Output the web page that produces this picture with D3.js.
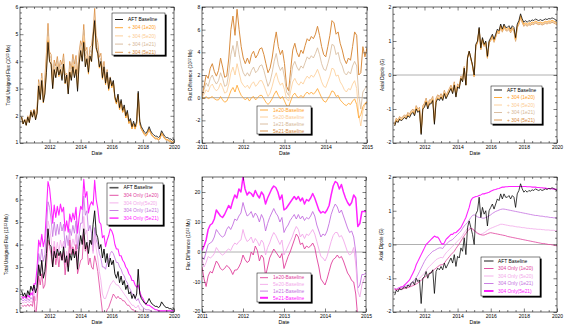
<!DOCTYPE html>
<html>
<head>
<meta charset="utf-8">
<script src="https://cdnjs.cloudflare.com/ajax/libs/d3/7.8.5/d3.min.js"></script>
<style>
body { margin: 0; background: #fff; }
svg { display: block; }
</style>
</head>
<body>
<svg id="chart" width="568" height="327"></svg>
<script>
// sample times: long runs every 0.1 yr from 2010.2, short runs every 0.05 yr from 2011.0
var fullStart = 2010.2, fullStep = 0.1;
var fineStart = 2011.0, fineStep = 0.05;

// AFT baseline total unsigned flux (10^23 Mx)
var fluxBase = [
  1.95,1.7,1.85,1.65,1.95,1.75,2.15,1.95,
  2.2,1.85,2.1,3.1,2.6,3.3,2.5,2.8,3.6,4.7,
  4.0,3.9,3.0,3.7,3.4,3.8,3.5,3.7,3.3,3.9,
  3.2,3.5,2.8,3.6,3.3,3.8,3.4,3.7,2.9,3.9,
  4.4,4.0,4.7,3.8,4.1,3.6,4.2,4.0,4.9,5.5,
  4.5,4.3,3.8,4.0,3.4,3.8,3.2,3.6,3.0,3.4,
  3.1,3.3,2.7,2.5,2.8,2.3,2.6,2.2,2.4,2.0,
  2.2,1.8,1.9,1.6,1.8,1.6,1.8,2.9,1.8,1.6,
  1.5,1.4,1.35,1.45,1.6,1.45,1.35,1.3,1.25,1.25,
  1.2,1.25,1.45,1.35,1.25,1.2,1.2,1.15,1.15,1.1,
  1.15
];

// "+ 304" runs minus baseline, long record (10^22 Mx)
var plusDiff1e20 = [
  0,0,0,0,0,0,0,0,
  0.0,0.1,0.0,-0.1,-0.2,-0.2,-0.3,0.6,0.5,0.6,
  0.0,0.0,0.0,-0.2,0.2,-0.1,-0.6,-0.1,0.6,-0.1,
  -0.3,-0.8,0.2,0.1,0.2,0.3,0.3,0.3,0.8,0.0,
  -0.4,0.2,0.5,0.2,-0.4,-0.7,-0.6,-0.1,-1.8,-0.8,
  -0.4,-0.5,-0.5,-0.5,-0.6,-0.6,-0.6,-0.6,-0.7,-0.7,
  -0.7,-0.7,-0.7,-0.7,-0.7,-0.7,-0.7,-0.7,-0.7,-0.7,
  -0.7,-0.7,-0.7,-0.7,-0.7,-0.7,-0.7,-0.7,-0.7,-0.7,
  -0.7,-0.7,-0.7,-0.7,-0.7,-0.7,-0.7,-0.7,-0.7,-0.7,
  -0.7,-0.7,-0.7,-0.7,-0.7,-0.7,-0.7,-0.7,-0.7,-0.7,
  -0.7
];
var plusDiff5e20 = [
  0.1,0.1,0.1,0.1,0.1,0.2,0.2,0.2,
  0.2,0.7,1.0,0.8,0.8,0.9,0.5,2.2,2.0,2.2,
  1.1,1.1,1.2,1.0,1.5,1.1,0.1,1.0,2.2,1.1,
  0.7,-0.3,1.4,1.3,1.4,1.6,1.7,1.8,2.5,1.4,
  0.9,1.9,2.5,2.0,1.1,0.5,0.7,1.5,-1.5,-1.2,
  -0.3,0.0,0.0,-0.1,-0.2,-0.3,-0.4,-0.4,-0.5,-0.5,
  -0.5,-0.6,-0.6,-0.6,-0.7,-0.7,-0.7,-0.7,-0.8,-0.8,
  -0.8,-0.8,-0.8,-0.8,-0.8,-0.8,-0.8,-0.8,-0.8,-0.8,
  -0.8,-0.8,-0.8,-0.8,-0.8,-0.8,-0.8,-0.8,-0.8,-0.8,
  -0.8,-0.8,-0.8,-0.8,-0.8,-0.8,-0.8,-0.8,-0.8,-0.8,
  -0.8
];
var plusDiff1e21 = [
  0.1,0.2,0.2,0.2,0.3,0.3,0.3,0.4,
  0.3,1.3,1.7,1.5,1.5,1.7,1.1,3.8,4.6,4.4,
  2.2,2.2,2.4,2.2,2.8,2.4,1.0,2.2,3.9,2.4,
  1.8,0.2,2.8,2.7,2.8,3.1,3.4,3.5,4.4,3.0,
  2.4,3.7,4.6,4.0,2.8,2.0,2.1,3.2,0.2,0.5,
  1.0,1.5,1.5,1.2,1.0,0.8,0.5,0.3,0.1,0.0,
  -0.2,-0.3,-0.4,-0.5,-0.5,-0.6,-0.6,-0.7,-0.7,-0.7,
  -0.8,-0.8,-0.8,-0.8,-0.8,-0.8,-0.8,-0.8,-0.8,-0.8,
  -0.9,-0.9,-0.9,-0.9,-0.9,-0.9,-0.9,-0.9,-0.9,-0.9,
  -0.9,-0.9,-0.9,-0.9,-0.9,-0.9,-0.9,-0.9,-0.9,-0.9,
  -0.9
];
var plusDiff5e21 = [
  0.2,0.3,0.3,0.4,0.5,0.5,0.6,0.7,
  0.5,2.0,2.6,2.3,2.4,2.7,1.9,6.0,7.2,7.0,
  3.5,3.5,3.8,3.5,4.3,3.8,2.2,3.5,5.8,3.8,
  3.0,0.6,4.2,4.0,4.2,4.6,5.0,5.2,6.3,4.5,
  3.6,5.5,6.6,5.8,4.2,3.0,3.3,5.8,2.0,4.5,
  4.4,4.0,3.5,3.0,2.5,2.0,1.5,1.0,0.5,0.3,
  0.0,-0.2,-0.3,-0.4,-0.5,-0.5,-0.6,-0.6,-0.7,-0.7,
  -0.7,-0.8,-0.8,-0.8,-0.8,-0.9,-0.9,-0.9,-0.9,-0.9,
  -1.0,-1.0,-1.0,-1.0,-1.0,-1.0,-1.0,-1.0,-1.0,-1.0,
  -1.0,-1.0,-1.0,-1.0,-1.0,-1.0,-1.0,-1.0,-1.0,-1.0,
  -1.0
];

// "304 Only" runs minus baseline, long record (10^22 Mx)
var onlyDiff1e20 = [
  -6.5,-4.5,-5.5,-4.0,-6.0,-5.0,-8.0,-7.0,
  -5,-11.5,-6.5,-5,-4,-6,-4.5,-6,-6,-5,
  -1,-3.5,0,2,-3,-2,-5,-0.5,0,-2,
  -5.5,-1.5,2,6,2.5,1,1.5,3,-2,-9,
  -11,-6.5,-2.5,-1,-1.5,-5,-8,-10,-20,-20,
  -13,-15,-16,-24,-24,-29,-23,-25,-18,-20,
  -15,-15,-10,-9,-11,-7,-10,-7,-9,-6,
  -9,-5,-7,-5,-7,-6,-8,-19,-9,-7,
  -6,-5,-4.5,-5.5,-7,-5.5,-4.5,-4,-3.5,-3.5,
  -3.5,-4,-6,-5,-4,-3.5,-3.5,-3,-3,-2.5,
  -3
];
var onlyDiff5e20 = [
  -5.0,-3.0,-4.0,-2.5,-4.5,-3.5,-6.5,-5.5,
  -2.5,-3.5,-2,-0.5,0.5,-1,0.5,0.5,3,3.5,
  7.5,3.5,5,4.5,2,3,1.5,5,5.5,2.5,
  -1,2,5,8.5,5,4.5,5.5,7.5,3.5,-1.5,
  -3,1,5.5,6.5,5.5,2,-1,1.5,-13,-11,
  -7,-9,-10,-16,-16,-22,-16,-18,-10,-12,
  -8,-9,-4,-3,-6,-2,-6,-3,-6,-3,
  -6,-3,-5,-3,-5,-4,-6,-16,-7,-5,
  -5,-4,-3.5,-4.5,-6,-4.5,-3.5,-3,-2.5,-2.5,
  -2.5,-3,-5,-4,-3,-2.5,-2.5,-2,-2,-1.5,
  -2
];
var onlyDiff1e21 = [
  -4.0,-2.0,-3.0,-1.5,-3.5,-2.5,-5.0,-4.0,
  -1.5,0,3,5,6.5,5,7.5,7.5,11,12,
  16.5,12,13.5,13,10,11,9.5,13,13,10,
  6.5,9,11.5,11,11,10.5,11,13.5,9,5,
  5.5,9.5,14.5,15,14,10,6.5,5,-12,-7.5,
  -3,-3,-2,-6,-4,-8,-3,-4,3,2,
  6,3,7,7,4,7,3,5,2,4,
  1,3,1,2,0,0,-3,-13,-4,-3,
  -3,-2.5,-2.5,-3.5,-5,-4,-3.5,-3,-2.5,-2.5,
  -2,-2.5,-4.5,-3.5,-2.5,-2,-2,-1.5,-1.5,-1,
  -1.5
];
var onlyDiff5e21 = [
  -2.5,-1.0,-1.5,-0.5,-2.0,-1.0,-3.0,-2.0,
  0.5,4,9,11,13,11.5,14,14.5,19,21,
  25,19,19.5,20.5,18,19,18,21,21.5,17.5,
  14,15.5,17.5,17.5,17,16,17,19.5,16,13,
  13,15.5,22,23,22.5,18,15.5,19,8.5,13.5,
  15,13,12,9,9,6,7,6,14,13,
  15,11,13,13,10,12,9,11,8,10,
  7,9,7,8,6,6,3,-7,1,1,
  1,0.5,0,-1.5,-3,-2,-1.5,-1.5,-1.5,-1.5,
  -1.5,-2,-4,-3,-2,-1.5,-1.5,-1,-1,-0.5,
  -1
];

// flux differences 2011-2015, fine sampling (10^22 Mx)
var plusFine1e20 = [
  0.0,-0.1,0.1,-0.1,0.0,0.1,-0.1,-0.2,-0.2,0.1,-0.2,-0.4,-0.3,0.1,0.6,0.9,0.5,1.1,0.6,0.2,
  0.0,-0.2,0.0,-0.3,0.0,0.1,-0.2,0.0,0.2,0.2,-0.1,-0.4,-0.6,-0.4,-0.1,0.3,0.6,0.2,-0.1,0.1,
  -0.3,-0.7,-0.8,-0.3,0.2,0.4,0.1,0.0,0.2,0.0,0.3,0.5,0.3,0.5,0.3,0.5,0.8,0.4,0.0,-0.3,
  -0.4,-0.1,0.2,0.6,0.5,0.1,0.2,-0.2,-0.4,-0.6,-0.7,-0.5,-0.6,-0.3,-0.1,-0.6,-1.8,-1.5,-0.8,-0.5,
  -0.4
];
var plusFine5e20 = [
  0.0,0.3,0.7,0.5,1.0,1.2,0.8,0.6,0.8,1.3,0.9,0.4,0.5,1.2,2.2,2.7,2.0,3.0,2.2,1.4,
  1.1,0.9,1.1,0.8,1.2,1.4,1.0,1.2,1.5,1.5,1.1,0.6,0.1,0.4,1.0,1.7,2.2,1.5,1.1,1.3,
  0.7,-0.1,-0.3,0.6,1.4,1.7,1.3,1.1,1.4,1.2,1.6,1.9,1.7,2.0,1.8,2.1,2.5,2.0,1.4,1.0,
  0.9,1.4,1.9,2.6,2.5,1.9,2.0,1.4,1.1,0.7,0.5,0.8,0.7,1.2,1.5,0.8,-1.5,-2.5,-1.2,-0.6,
  -0.3
];
var plusFine1e21 = [
  0.0,0.7,1.3,1.0,1.7,2.0,1.5,1.2,1.5,2.2,1.7,1.0,1.1,2.2,3.8,4.6,3.6,5.0,3.8,2.8,
  2.2,1.9,2.2,1.9,2.4,2.7,2.2,2.4,2.8,2.9,2.4,1.7,1.0,1.4,2.2,3.2,3.9,2.9,2.4,2.7,
  1.8,0.5,0.2,1.5,2.8,3.2,2.7,2.4,2.8,2.6,3.1,3.6,3.4,3.7,3.5,3.9,4.4,3.8,3.0,2.5,
  2.4,3.0,3.7,4.7,4.6,3.8,4.0,3.2,2.8,2.2,2.0,2.3,2.1,2.8,3.2,2.8,0.2,-1.0,0.5,0.8,
  1.0
];
var plusFine5e21 = [
  0.0,1.0,2.0,1.7,2.6,3.0,2.3,1.9,2.4,3.5,2.7,1.8,1.9,3.5,6.0,7.2,5.5,7.8,6.0,4.5,
  3.5,3.0,3.5,3.0,3.8,4.1,3.5,3.8,4.3,4.4,3.8,3.0,2.2,2.6,3.5,4.8,5.8,4.5,3.8,4.2,
  3.0,1.0,0.6,2.5,4.2,4.8,4.0,3.6,4.2,3.9,4.6,5.2,5.0,5.4,5.2,5.6,6.3,5.5,4.5,3.8,
  3.6,4.5,5.5,6.8,6.6,5.6,5.8,4.8,4.2,3.4,3.0,3.5,3.3,4.5,5.8,5.5,2.0,2.2,4.5,3.6,
  4.4
];
var onlyFine1e20 = [
  -5,-9,-11.5,-8,-6.5,-7,-5,-3,-4,-5.5,-6,-5.5,-4.5,-5,-6,-7.5,-6,-6,-5,-3.5,
  -1,-2.5,-3.5,-3,0,-1,2,0.5,-3,-1,-2,-8,-5,-2,-0.5,1,0,-1,-2,-0.5,
  -5.5,-3.5,-1.5,0,2,4,6,5,2.5,3,1,2,1.5,2,3,1.5,-2,-5,-9,-10,
  -11,-9,-6.5,-4,-2.5,-2,-1,-2,-1.5,-3,-5,-7,-8,-9.5,-10,-14,-22,-25,-25,-24,
  -23
];
var onlyFine5e20 = [
  -2.5,-5,-3.5,-1.5,-2,-1.5,-0.5,1.5,0.5,-0.5,-1,-0.5,0.5,1,0.5,2,3,2.5,3.5,4,
  7.5,5,3.5,4,5,3,4.5,3.5,2,4,3,-1,1.5,3,5,6.5,5.5,4,2.5,4,
  -1,0.5,2,3.5,5,7,8.5,7.5,5,6,4.5,6,5.5,6.5,7.5,6,3.5,1,-1.5,-2,
  -3,-1.5,1,3.5,5.5,6.5,6.5,5,5.5,4,2,0,-1,-0.5,1.5,-4,-13,-15,-11,-9,
  -8
];
var onlyFine1e21 = [
  -1.5,-2.5,0,2.5,3,3.5,5,7.5,6.5,5.5,5,5.5,7.5,8.5,7.5,9,11,10.5,12,13,
  16.5,14,12,12.5,13.5,11.5,13,12,10,12.5,11,7,9.5,11.5,13,14.5,13,12,10,11.5,
  6.5,8,9,10.5,11.5,12.5,11,12.5,11,12,10.5,11.5,11,12,13.5,12,9,7,5,6,
  5.5,7,9.5,12.5,14.5,16,15,13,14,12,10,8,6.5,7,5,0,-12,-11,-7.5,-7.5,
  -7
];
var onlyFine5e21 = [
  0.5,2,4,7.5,9,9.5,11,14,13,12,11.5,12.5,14,15.5,14.5,17,19,18,21,20,
  25,21,19,20,19.5,18.5,20.5,19,18,20,19,16,18,19.5,21,22,21.5,20,17.5,19,
  14,14.5,15.5,16.5,17.5,18.5,17.5,18.5,17,18,16,17.5,17,18,19.5,18,16,14,13,13.5,
  13,14,15.5,19,22,23.5,23,21,22.5,20,18,16.5,15.5,16.5,19,18,8.5,9.5,13.5,13.5,
  13.5
];

// AFT baseline axial dipole (G)
var dipBase = [
  -1.5,-1.35,-1.4,-1.3,-1.35,-1.3,-1.25,-1.3,
  -1.2,-1.25,-1.15,-1.1,-1.2,-1.0,-1.1,-1.05,-1.75,-1.0,
  -0.95,-0.8,-1.0,-0.85,-0.85,-0.75,-1.45,-0.8,-0.7,-0.75,
  -0.65,-0.75,-0.55,-0.7,-0.6,-0.5,-0.4,-0.55,-0.3,-0.65,
  -0.35,-0.4,-0.1,-0.2,0.2,-0.3,0.5,0.7,0.5,0.3,
  0.0,0.9,1.0,1.4,0.8,1.1,0.9,1.0,0.55,1.0,
  1.1,1.2,1.05,1.2,1.35,1.3,1.5,1.35,1.5,1.4,
  1.4,1.45,1.35,1.45,1.4,1.1,1.5,1.6,1.8,1.65,
  1.55,1.6,1.55,1.6,1.58,1.62,1.6,1.65,1.62,1.6,
  1.63,1.6,1.62,1.65,1.63,1.66,1.65,1.68,1.66,1.63,
  1.6
];

// "+ 304" dipole minus baseline (G)
var plusDip1e20 = [
  0.02,0.02,0.02,0.02,0.02,0.02,0.02,0.02,
  0.03,0.03,0.03,0.03,0.03,0.03,0.03,0.03,0.03,0.03,
  0.03,0.03,0.03,0.03,0.03,0.03,0.03,0.03,0.03,0.03,
  0.02,0.02,0.02,0.02,0.02,0.02,0.02,0.02,0.02,0.02,
  0.02,0.02,0.01,0.01,0.0,0.0,-0.01,-0.01,-0.02,-0.02,
  -0.03,-0.03,-0.03,-0.03,-0.03,-0.03,-0.03,-0.03,-0.03,-0.03,
  -0.04,-0.04,-0.04,-0.04,-0.04,-0.04,-0.04,-0.04,-0.04,-0.04,
  -0.05,-0.05,-0.05,-0.05,-0.05,-0.05,-0.05,-0.05,-0.05,-0.05,
  -0.06,-0.06,-0.06,-0.06,-0.06,-0.06,-0.06,-0.06,-0.06,-0.06,
  -0.07,-0.07,-0.07,-0.07,-0.07,-0.07,-0.07,-0.07,-0.07,-0.07,
  -0.07
];
var plusDip5e20 = [
  0.04,0.04,0.04,0.04,0.04,0.04,0.04,0.04,
  0.05,0.05,0.05,0.05,0.05,0.05,0.05,0.05,0.05,0.05,
  0.06,0.06,0.06,0.06,0.06,0.06,0.06,0.06,0.06,0.06,
  0.05,0.05,0.05,0.05,0.05,0.05,0.05,0.05,0.05,0.05,
  0.04,0.04,0.03,0.03,0.02,0.01,0.0,-0.01,-0.02,-0.03,
  -0.04,-0.04,-0.04,-0.04,-0.04,-0.04,-0.04,-0.04,-0.04,-0.04,
  -0.06,-0.06,-0.06,-0.06,-0.06,-0.06,-0.06,-0.06,-0.06,-0.06,
  -0.07,-0.07,-0.07,-0.07,-0.07,-0.07,-0.07,-0.07,-0.07,-0.07,
  -0.08,-0.08,-0.08,-0.08,-0.08,-0.08,-0.08,-0.08,-0.08,-0.08,
  -0.09,-0.09,-0.09,-0.09,-0.09,-0.09,-0.09,-0.09,-0.09,-0.09,
  -0.09
];
var plusDip1e21 = [
  0.06,0.06,0.06,0.06,0.06,0.06,0.06,0.06,
  0.08,0.08,0.08,0.08,0.08,0.08,0.08,0.08,0.08,0.08,
  0.09,0.09,0.09,0.09,0.09,0.09,0.09,0.09,0.09,0.09,
  0.07,0.07,0.07,0.07,0.07,0.07,0.07,0.07,0.07,0.07,
  0.06,0.05,0.05,0.04,0.03,0.02,0.01,0.0,-0.02,-0.03,
  -0.05,-0.05,-0.05,-0.05,-0.05,-0.05,-0.05,-0.05,-0.05,-0.05,
  -0.07,-0.07,-0.07,-0.07,-0.07,-0.07,-0.07,-0.07,-0.07,-0.07,
  -0.09,-0.09,-0.09,-0.09,-0.09,-0.09,-0.09,-0.09,-0.09,-0.09,
  -0.10,-0.10,-0.10,-0.10,-0.10,-0.10,-0.10,-0.10,-0.10,-0.10,
  -0.11,-0.11,-0.11,-0.11,-0.11,-0.11,-0.11,-0.11,-0.11,-0.11,
  -0.11
];
var plusDip5e21 = [
  0.08,0.08,0.08,0.08,0.08,0.08,0.08,0.08,
  0.10,0.10,0.10,0.10,0.10,0.10,0.10,0.10,0.10,0.10,
  0.12,0.12,0.12,0.12,0.12,0.12,0.12,0.12,0.12,0.12,
  0.10,0.10,0.10,0.10,0.10,0.10,0.10,0.10,0.10,0.10,
  0.09,0.08,0.07,0.06,0.05,0.04,0.02,0.0,-0.02,-0.04,
  -0.06,-0.06,-0.06,-0.06,-0.06,-0.06,-0.06,-0.06,-0.06,-0.06,
  -0.09,-0.09,-0.09,-0.09,-0.09,-0.09,-0.09,-0.09,-0.09,-0.09,
  -0.11,-0.11,-0.11,-0.11,-0.11,-0.11,-0.11,-0.11,-0.11,-0.11,
  -0.12,-0.12,-0.12,-0.12,-0.12,-0.12,-0.12,-0.12,-0.12,-0.12,
  -0.13,-0.13,-0.13,-0.13,-0.13,-0.13,-0.13,-0.13,-0.13,-0.13,
  -0.13
];

// "304 Only" axial dipole (G)
var onlyDip1e20 = [
  -1.33,-1.34,-1.33,-1.33,-1.32,-1.31,-1.3,-1.29,
  -1.28,-1.26,-1.24,-1.22,-1.2,-1.17,-1.14,-1.1,-1.06,-1.02,
  -0.98,-0.94,-0.9,-0.86,-0.82,-0.78,-0.74,-0.7,-0.66,-0.62,
  -0.6,-0.6,-0.55,-0.48,-0.42,-0.36,-0.3,-0.25,-0.2,-0.12,
  -0.05,0.02,0.1,0.18,0.26,0.33,0.4,0.45,0.48,0.46,
  0.42,0.38,0.34,0.31,0.29,0.28,0.28,0.3,0.32,0.34,
  0.35,0.34,0.33,0.32,0.31,0.3,0.29,0.28,0.27,0.26,
  0.24,0.23,0.22,0.21,0.2,0.19,0.18,0.17,0.16,0.15,
  0.14,0.13,0.12,0.11,0.1,0.09,0.08,0.07,0.06,0.05,
  0.04,0.03,0.03,0.02,0.01,0.0,0.0,-0.01,-0.02,-0.03,
  -0.04
];
var onlyDip5e20 = [
  -1.32,-1.33,-1.32,-1.32,-1.3,-1.3,-1.28,-1.27,
  -1.25,-1.22,-1.2,-1.17,-1.13,-1.1,-1.05,-1.0,-0.95,-0.9,
  -0.85,-0.78,-0.7,-0.65,-0.6,-0.55,-0.5,-0.45,-0.42,-0.4,
  -0.38,-0.4,-0.32,-0.25,-0.2,-0.15,-0.1,-0.05,0.0,0.05,
  0.1,0.15,0.2,0.27,0.35,0.42,0.48,0.5,0.48,0.45,
  0.4,0.35,0.32,0.3,0.3,0.32,0.35,0.38,0.42,0.45,
  0.48,0.5,0.52,0.54,0.56,0.58,0.6,0.6,0.59,0.58,
  0.57,0.56,0.55,0.55,0.54,0.53,0.52,0.52,0.51,0.5,
  0.5,0.49,0.48,0.48,0.47,0.47,0.46,0.46,0.45,0.45,
  0.45,0.44,0.44,0.43,0.43,0.43,0.42,0.42,0.42,0.41,
  0.41
];
var onlyDip1e21 = [
  -1.3,-1.32,-1.3,-1.3,-1.28,-1.27,-1.25,-1.22,
  -1.2,-1.18,-1.15,-1.1,-1.05,-0.98,-0.9,-0.8,-0.7,-0.6,
  -0.5,-0.42,-0.35,-0.3,-0.25,-0.2,-0.18,-0.15,-0.12,-0.1,
  -0.1,-0.12,-0.05,0.0,0.05,0.1,0.12,0.15,0.2,0.25,
  0.3,0.35,0.4,0.48,0.55,0.6,0.65,0.72,0.8,0.86,
  0.88,0.85,0.82,0.8,0.8,0.78,0.78,0.8,0.82,0.85,
  0.88,0.92,0.95,0.98,1.0,1.02,1.04,1.05,1.05,1.04,
  1.03,1.02,1.01,1.0,0.99,0.98,0.97,0.96,0.95,0.94,
  0.93,0.92,0.91,0.9,0.89,0.88,0.87,0.86,0.86,0.85,
  0.84,0.84,0.83,0.82,0.82,0.81,0.8,0.8,0.79,0.79,
  0.78
];
var onlyDip5e21 = [
  -1.3,-1.35,-1.3,-1.28,-1.25,-1.25,-1.2,-1.15,
  -1.1,-1.05,-0.95,-0.85,-0.75,-0.6,-0.5,-0.4,-0.3,-0.2,
  -0.1,0.0,0.05,0.1,0.15,0.2,0.25,0.22,0.22,0.15,
  0.05,0.0,0.05,0.15,0.2,0.25,0.3,0.3,0.35,0.35,
  0.4,0.45,0.5,0.6,0.7,0.8,0.95,1.1,1.3,1.38,
  1.4,1.42,1.43,1.45,1.47,1.5,1.5,1.52,1.53,1.55,
  1.58,1.6,1.62,1.63,1.65,1.66,1.68,1.7,1.7,1.71,
  1.71,1.72,1.72,1.72,1.72,1.72,1.72,1.72,1.72,1.72,
  1.72,1.72,1.71,1.71,1.71,1.7,1.7,1.7,1.69,1.69,
  1.68,1.68,1.67,1.67,1.66,1.66,1.65,1.65,1.64,1.64,
  1.63
];

// axis ticks
var yearTicks = [2012, 2014, 2016, 2018, 2020];
var shortYearTicks = [2011, 2012, 2013, 2014, 2015];
var totalFluxTicksTop = [1, 2, 3, 4, 5, 6];
var totalFluxTicksBottom = [1, 2, 3, 4, 5, 6, 7];
var diffTicksTop = [-4, -2, 0, 2, 4, 6, 8];
var diffTicksBottom = [-20, -10, 0, 10, 20];
var dipoleTicks = [-2, -1, 0, 1, 2];

var runs = ["1e20", "5e20", "1e21", "5e21"];
var orange = {"1e20": "#ffa126", "5e20": "#fccb92", "1e21": "#d6b797", "5e21": "#d98c3e"};
var pink = {"1e20": "#e0409c", "5e20": "#f3a8ea", "1e21": "#c470e0", "5e21": "#ff22ff"};

var fontFam = '"Liberation Sans", Arial, Helvetica, sans-serif';
var svg = d3.select("#chart");
svg.append("rect").attr("width", 568).attr("height", 327).attr("fill", "#fff");

function pts(values, start, step) {
  return values.map(function(v, i) { return [start + i * step, v]; });
}
function addBase(base, diff, k) {
  return base.map(function(v, i) { return v + diff[i] * k; });
}
function minorTicks(lo, hi, step, majors) {
  return d3.range(lo, hi + step / 2, step).filter(function(v) {
    return !majors.some(function(m) { return Math.abs(m - v) < 1e-6; });
  });
}

function panel(o) {
  var x = d3.scaleLinear().domain(o.xDomain).range([o.left, o.right]);
  var y = d3.scaleLinear().domain(o.yDomain).range([o.bottom, o.top]);
  var g = svg.append("g");

  g.append("clipPath").attr("id", "clip" + o.id)
    .append("rect")
    .attr("x", o.left).attr("y", o.top)
    .attr("width", o.right - o.left).attr("height", o.bottom - o.top);

  if (o.zero) {
    g.append("line")
      .attr("x1", o.left).attr("x2", o.right)
      .attr("y1", y(0)).attr("y2", y(0))
      .attr("stroke", "#9c9c9c").attr("stroke-width", 0.8);
  }

  var line = d3.line()
    .x(function(d) { return x(d[0]); })
    .y(function(d) { return y(d[1]); });

  var lines = g.append("g").attr("clip-path", "url(#clip" + o.id + ")");
  o.series.forEach(function(s) {
    lines.append("path")
      .datum(s.points)
      .attr("d", line)
      .attr("fill", "none")
      .attr("stroke", s.color)
      .attr("stroke-width", s.width || 0.7)
      .attr("stroke-linejoin", "round");
  });

  // frame
  g.append("rect")
    .attr("x", o.left).attr("y", o.top)
    .attr("width", o.right - o.left).attr("height", o.bottom - o.top)
    .attr("fill", "none").attr("stroke", "#000").attr("stroke-width", 0.6);

  var xMinor = minorTicks(o.xMinor[0], o.xMinor[1], o.xMinor[2], o.xTicks);
  var yMinor = minorTicks(o.yDomain[0], o.yDomain[1], o.yMinorStep, o.yTicks);

  function put(axis, tr) {
    var a = g.append("g").attr("transform", tr).call(axis);
    a.attr("font-size", 5).attr("font-family", fontFam);
    a.select(".domain").remove();
    a.selectAll(".tick line").attr("stroke", "#000").attr("stroke-width", 0.5);
    a.selectAll(".tick text").attr("fill", "#000");
    return a;
  }
  var fmt = function(d) { return String(d); };

  put(d3.axisBottom(x).tickValues(o.xTicks).tickSize(-3.5).tickPadding(2.5).tickFormat(fmt), "translate(0," + o.bottom + ")");
  put(d3.axisBottom(x).tickValues(xMinor).tickSize(-2).tickFormat(""), "translate(0," + o.bottom + ")");
  put(d3.axisTop(x).tickValues(o.xTicks).tickSize(-3.5).tickFormat(""), "translate(0," + o.top + ")");
  put(d3.axisTop(x).tickValues(xMinor).tickSize(-2).tickFormat(""), "translate(0," + o.top + ")");
  var yl = put(d3.axisLeft(y).tickValues(o.yTicks).tickSize(-3.5).tickPadding(1.8).tickFormat(fmt), "translate(" + o.left + ",0)");
  // lift the lowest label a little so it clears the first date label
  yl.selectAll(".tick text").filter(function(d) { return d === o.yDomain[0]; }).attr("y", -1.3);
  put(d3.axisLeft(y).tickValues(yMinor).tickSize(-2).tickFormat(""), "translate(" + o.left + ",0)");
  put(d3.axisRight(y).tickValues(o.yTicks).tickSize(-3.5).tickFormat(""), "translate(" + o.right + ",0)");
  put(d3.axisRight(y).tickValues(yMinor).tickSize(-2).tickFormat(""), "translate(" + o.right + ",0)");

  // axis titles
  g.append("text")
    .attr("x", (o.left + o.right) / 2).attr("y", o.bottom + 11.8)
    .attr("text-anchor", "middle").attr("font-size", 5.2).attr("font-family", fontFam)
    .text("Date");

  var t = g.append("text")
    .attr("transform", "translate(" + o.titleX + "," + ((o.top + o.bottom) / 2) + ") rotate(-90)")
    .attr("text-anchor", "middle").attr("dy", "0.35em")
    .attr("font-size", 4.6).attr("font-family", fontFam);
  if (o.power) {
    t.append("tspan").text(o.title + " (10");
    t.append("tspan").attr("dy", -1.6).attr("font-size", 3.2).text(o.power);
    t.append("tspan").attr("dy", 1.6).text(" Mx)");
  } else {
    t.text(o.title);
  }
  return {x: x, y: y};
}

function legend(b, items) {
  var g = svg.append("g");
  g.append("rect").attr("x", b.x + 1.6).attr("y", b.y + 1.6)
    .attr("width", b.w).attr("height", b.h).attr("fill", "#000");
  g.append("rect").attr("x", b.x).attr("y", b.y)
    .attr("width", b.w).attr("height", b.h)
    .attr("fill", "#fff").attr("stroke", "#000").attr("stroke-width", 0.5);
  items.forEach(function(it, i) {
    var yy = b.y + b.first + i * b.step;
    g.append("line")
      .attr("x1", b.x + b.l0).attr("x2", b.x + b.l1)
      .attr("y1", yy).attr("y2", yy)
      .attr("stroke", it.color).attr("stroke-width", it.width || 0.9);
    g.append("text")
      .attr("x", b.x + b.tx).attr("y", yy).attr("dy", "0.35em")
      .attr("font-size", 4.9).attr("font-family", fontFam)
      .attr("fill", it.textColor || it.color)
      .text(it.label);
  });
}

var plusFull = {"1e20": plusDiff1e20, "5e20": plusDiff5e20, "1e21": plusDiff1e21, "5e21": plusDiff5e21};
var onlyFull = {"1e20": onlyDiff1e20, "5e20": onlyDiff5e20, "1e21": onlyDiff1e21, "5e21": onlyDiff5e21};
var plusFine = {"1e20": plusFine1e20, "5e20": plusFine5e20, "1e21": plusFine1e21, "5e21": plusFine5e21};
var onlyFine = {"1e20": onlyFine1e20, "5e20": onlyFine5e20, "1e21": onlyFine1e21, "5e21": onlyFine5e21};
var plusDip = {"1e20": plusDip1e20, "5e20": plusDip5e20, "1e21": plusDip1e21, "5e21": plusDip5e21};
var onlyDip = {"1e20": onlyDip1e20, "5e20": onlyDip5e20, "1e21": onlyDip1e21, "5e21": onlyDip5e21};
var drawOrder = ["5e21", "1e21", "5e20", "1e20"];

var longX = [2010.1, 2020];
var shortX = [2011, 2015];

// top row: "+ 304" runs
panel({
  id: 1, left: 20, right: 174, top: 7, bottom: 143,
  xDomain: longX, yDomain: [1, 6], xTicks: yearTicks, xMinor: [2010.5, 2020, 0.5],
  yTicks: totalFluxTicksTop, yMinorStep: 0.2, titleX: 8.5,
  title: "Total Unsigned Flux", power: "23",
  series: drawOrder.map(function(r) {
    return {points: pts(addBase(fluxBase, plusFull[r], 0.1), fullStart, fullStep), color: orange[r], width: 0.8};
  }).concat([{points: pts(fluxBase, fullStart, fullStep), color: "#000", width: 0.75}])
});
panel({
  id: 2, left: 202, right: 367, top: 7, bottom: 143,
  xDomain: shortX, yDomain: [-4, 8], xTicks: shortYearTicks, xMinor: [2011, 2015, 0.25],
  yTicks: diffTicksTop, yMinorStep: 0.5, titleX: 190.5, zero: true,
  title: "Flux Difference", power: "22",
  series: drawOrder.map(function(r) {
    return {points: pts(plusFine[r], fineStart, fineStep), color: orange[r], width: r === "5e21" ? 1.0 : 0.8};
  })
});
panel({
  id: 3, left: 393, right: 557, top: 7, bottom: 143,
  xDomain: longX, yDomain: [-2, 2], xTicks: yearTicks, xMinor: [2010.5, 2020, 0.5],
  yTicks: dipoleTicks, yMinorStep: 0.2, titleX: 382, zero: true,
  title: "Axial Dipole (G)",
  series: drawOrder.map(function(r) {
    return {points: pts(addBase(dipBase, plusDip[r], 1), fullStart, fullStep), color: orange[r], width: 0.8};
  }).concat([{points: pts(dipBase, fullStart, fullStep), color: "#000", width: 0.75}])
});

// bottom row: "304 Only" runs
panel({
  id: 4, left: 20, right: 174, top: 177, bottom: 312,
  xDomain: longX, yDomain: [1, 7], xTicks: yearTicks, xMinor: [2010.5, 2020, 0.5],
  yTicks: totalFluxTicksBottom, yMinorStep: 0.2, titleX: 6.5,
  title: "Total Unsigned Flux", power: "23",
  series: drawOrder.map(function(r) {
    return {points: pts(addBase(fluxBase, onlyFull[r], 0.1), fullStart, fullStep), color: pink[r], width: r === "5e21" ? 1.1 : 0.8};
  }).concat([{points: pts(fluxBase, fullStart, fullStep), color: "#000", width: 0.9}])
});
panel({
  id: 5, left: 202, right: 366, top: 177, bottom: 312,
  xDomain: shortX, yDomain: [-20, 25], xTicks: shortYearTicks, xMinor: [2011, 2015, 0.25],
  yTicks: diffTicksBottom, yMinorStep: 2, titleX: 188.5, zero: true,
  title: "Flux Difference", power: "22",
  series: drawOrder.map(function(r) {
    return {points: pts(onlyFine[r], fineStart, fineStep), color: pink[r], width: r === "5e21" ? 1.5 : 0.9};
  })
});
panel({
  id: 6, left: 393, right: 557, top: 177, bottom: 312,
  xDomain: longX, yDomain: [-2, 2], xTicks: yearTicks, xMinor: [2010.5, 2020, 0.5],
  yTicks: dipoleTicks, yMinorStep: 0.2, titleX: 381, zero: true,
  title: "Axial Dipole (G)",
  series: drawOrder.map(function(r) {
    return {points: pts(onlyDip[r], fullStart, fullStep), color: pink[r], width: r === "5e21" ? 1.1 : 0.8};
  }).concat([{points: pts(dipBase, fullStart, fullStep), color: "#000", width: 0.75}])
});

// legends
legend({x: 112, y: 13, w: 53, h: 42, first: 6.5, step: 8.2, l0: 3, l1: 11, tx: 16},
  [{label: "AFT Baseline", color: "#000"}].concat(runs.map(function(r) {
    return {label: "+ 304 (" + r + ")", color: orange[r]};
  })));
legend({x: 257, y: 106, w: 54, h: 28, first: 4, step: 7, l0: 3, l1: 11, tx: 16},
  runs.map(function(r) { return {label: r + "-Baseline", color: orange[r]}; }));
legend({x: 491, y: 86, w: 51, h: 38, first: 4, step: 7.5, l0: 3, l1: 11, tx: 16},
  [{label: "AFT Baseline", color: "#000"}].concat(runs.map(function(r) {
    return {label: "+ 304 (" + r + ")", color: orange[r]};
  })));
legend({x: 107, y: 183, w: 56, h: 42, first: 4.7, step: 7.6, l0: 2.5, l1: 11.5, tx: 16.5},
  [{label: "AFT Baseline", color: "#555", width: 1.6, textColor: "#000"},
   {label: "304 Only (1e20)", color: pink["1e20"]},
   {label: "304 Only(5e20)", color: pink["5e20"]},
   {label: "304 Only (1e21)", color: pink["1e21"]},
   {label: "304 Only (5e21)", color: pink["5e21"], width: 1.4}]);
legend({x: 257, y: 273, w: 54, h: 29, first: 4.7, step: 6.7, l0: 3, l1: 11, tx: 16},
  runs.map(function(r) {
    return {label: r + "-Baseline", color: pink[r], width: r === "5e21" ? 2 : 0.9};
  }));
legend({x: 481, y: 257, w: 59, h: 39, first: 4, step: 7.5, l0: 3, l1: 12.5, tx: 17},
  [{label: "AFT Baseline", color: "#000"},
   {label: "304 Only (1e20)", color: pink["1e20"]},
   {label: "304 Only (5e20)", color: pink["5e20"]},
   {label: "304 Only (1e21)", color: pink["1e21"]},
   {label: "304 Only(5e21)", color: pink["5e21"], width: 2}]);
</script>
</body>
</html>
